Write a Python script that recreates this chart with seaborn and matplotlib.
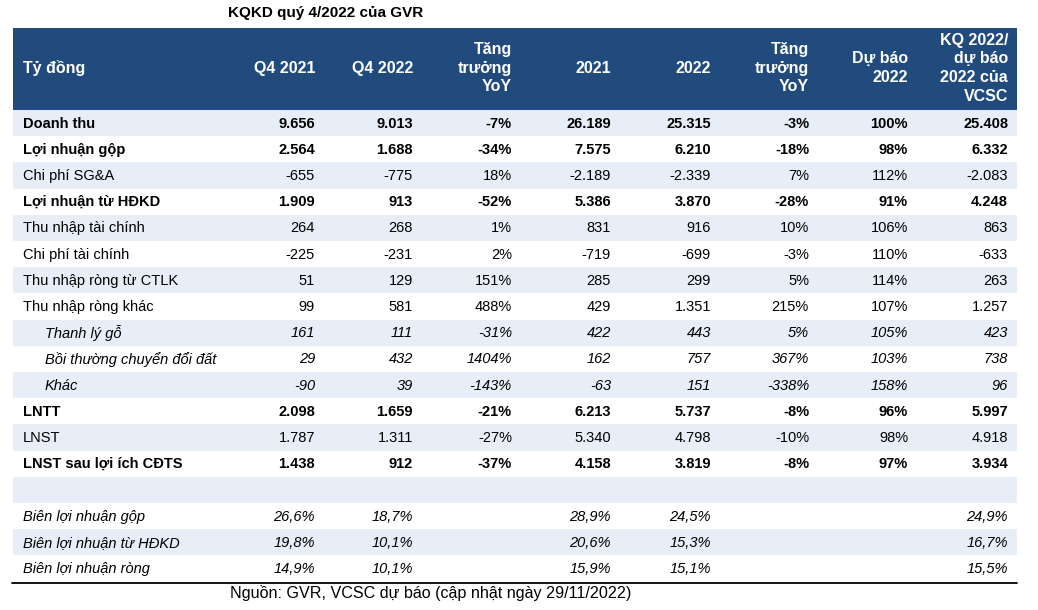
import numpy as np
import matplotlib
matplotlib.use("Agg")
import matplotlib.pyplot as plt
from matplotlib.colors import ListedColormap
from matplotlib.patches import Rectangle
import seaborn as sns

sns.set_style("white")
plt.rcParams['font.family'] = ['Liberation Sans', 'DejaVu Sans']

title = "KQKD quý 4/2022 của GVR"
source = "Nguồn: GVR, VCSC dự báo (cập nhật ngày 29/11/2022)"

header_label = "Tỷ đồng"
col_headers = ["Q4 2021", "Q4 2022", "Tăng\ntrưởng\nYoY", "2021", "2022",
               "Tăng\ntrưởng\nYoY", "Dự báo\n2022", "KQ 2022/\ndự báo\n2022 của\nVCSC"]

row_labels = ["Doanh thu", "Lợi nhuận gộp", "Chi phí SG&A", "Lợi nhuận từ HĐKD",
              "Thu nhập tài chính", "Chi phí tài chính", "Thu nhập ròng từ CTLK",
              "Thu nhập ròng khác", "Thanh lý gỗ", "Bồi thường chuyển đổi đất", "Khác",
              "LNTT", "LNST", "LNST sau lợi ích CĐTS", "",
              "Biên lợi nhuận gộp", "Biên lợi nhuận từ HĐKD", "Biên lợi nhuận ròng"]
row_styles = ["bold", "bold", "normal", "bold", "normal", "normal", "normal",
              "normal", "sub", "sub", "sub", "bold", "normal", "bold", "normal",
              "italic", "italic", "italic"]

q4_2021 = ["9.656", "2.564", "-655", "1.909", "264", "-225", "51", "99", "161", "29", "-90",
           "2.098", "1.787", "1.438", "", "26,6%", "19,8%", "14,9%"]
q4_2022 = ["9.013", "1.688", "-775", "913", "268", "-231", "129", "581", "111", "432", "39",
           "1.659", "1.311", "912", "", "18,7%", "10,1%", "10,1%"]
yoy_q4 = ["-7%", "-34%", "18%", "-52%", "1%", "2%", "151%", "488%", "-31%", "1404%", "-143%",
          "-21%", "-27%", "-37%", "", "", "", ""]
fy2021 = ["26.189", "7.575", "-2.189", "5.386", "831", "-719", "285", "429", "422", "162", "-63",
          "6.213", "5.340", "4.158", "", "28,9%", "20,6%", "15,9%"]
fy2022 = ["25.315", "6.210", "-2.339", "3.870", "916", "-699", "299", "1.351", "443", "757", "151",
          "5.737", "4.798", "3.819", "", "24,5%", "15,3%", "15,1%"]
yoy_fy = ["-3%", "-18%", "7%", "-28%", "10%", "-3%", "5%", "215%", "5%", "367%", "-338%",
          "-8%", "-10%", "-8%", "", "", "", ""]
vs_forecast = ["100%", "98%", "112%", "91%", "106%", "110%", "114%", "107%", "105%", "103%", "158%",
               "96%", "98%", "97%", "", "", "", ""]
vcsc_forecast = ["25.408", "6.332", "-2.083", "4.248", "863", "-633", "263", "1.257", "423", "738", "96",
                 "5.997", "4.918", "3.934", "", "24,9%", "16,7%", "15,5%"]

columns = [q4_2021, q4_2022, yoy_q4, fy2021, fy2022, yoy_fy, vs_forecast, vcsc_forecast]

# layout (pixels)
W, H = 1038, 610
left, right = 13, 1017
head_top, head_bot = 27.5, 110
row_h = 26.2
n = len(row_labels)
body_bot = head_bot + n * row_h
col_right = [315, 413, 512, 611, 711, 809, 908, 1008]

header_color = "#214A7D"
stripe_color = "#E8EEF7"

fig = plt.figure(figsize=(W / 100, H / 100), dpi=100)

# zebra stripes via seaborn heatmap
hax = fig.add_axes([left / W, (H - body_bot) / H, (right - left) / W, (body_bot - head_bot) / H])
stripes = np.array([[1 if i % 2 == 0 else 0] for i in range(n)])
sns.heatmap(stripes, cmap=ListedColormap(["#FFFFFF", stripe_color]), vmin=0, vmax=1,
            cbar=False, ax=hax, xticklabels=False, yticklabels=False)
hax.axis("off")

ax = fig.add_axes([0, 0, 1, 1])
ax.set_xlim(0, W)
ax.set_ylim(H, 0)
ax.axis("off")
ax.patch.set_alpha(0)

fs = 10.5
hfs = 11.5
ax.text(228, 13, title, fontsize=11, fontweight="bold", ha="left", va="center", color="black")
ax.add_patch(Rectangle((left, head_top), right - left, head_bot - head_top, color=header_color, lw=0))
hy = (head_top + head_bot) / 2 - 0.5
ax.text(23, hy, header_label, fontsize=hfs, fontweight="bold", color="white", ha="left", va="center")
for x, h in zip(col_right, col_headers):
    ax.text(x, hy, h, fontsize=hfs, fontweight="bold", color="white", ha="right", va="center",
            multialignment="right", linespacing=1.3)

for i, lab in enumerate(row_labels):
    y = head_bot + (i + 0.5) * row_h + 0.5
    st = row_styles[i]
    weight = "bold" if st == "bold" else "normal"
    style = "italic" if st in ("sub", "italic") else "normal"
    lx = 45 if st == "sub" else 23
    ax.text(lx, y, lab, fontsize=fs, fontweight=weight, fontstyle=style, ha="left", va="center",
            color="black")
    for x, col in zip(col_right, columns):
        if col[i]:
            ax.text(x, y, col[i], fontsize=fs, fontweight=weight, fontstyle=style, ha="right",
                    va="center", color="black")

ax.plot([12, right], [body_bot + 1.5, body_bot + 1.5], color="black", lw=1.3)
ax.text(230, 593, source, fontsize=11.6, ha="left", va="center", color="black")

fig.savefig("out.png", dpi=100)
